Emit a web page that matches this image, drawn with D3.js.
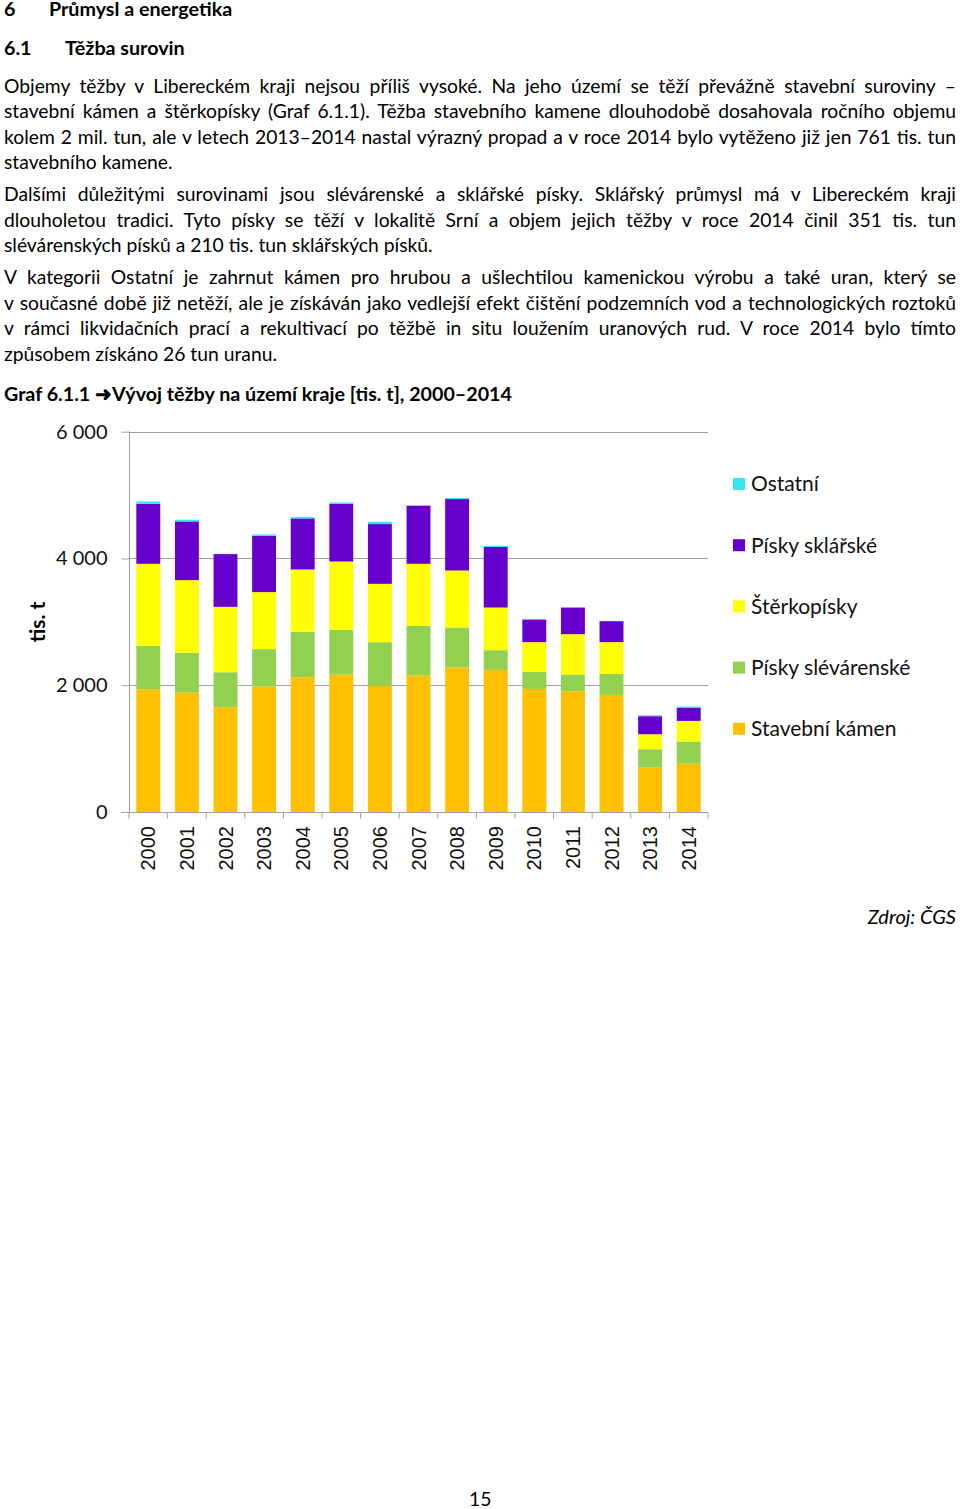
<!DOCTYPE html>
<html>
<head>
<meta charset="utf-8">
<script src="https://cdn.jsdelivr.net/npm/d3@7"></script>
<style>
  html, body { margin: 0; padding: 0; background: #fff; }
  body { width: 960px; height: 1509px; position: relative; overflow: hidden; font-family: Lato, "Open Sans", sans-serif; color: #000; }
  .ln { position: absolute; left: 4px; white-space: nowrap; font-size: 19.3px; line-height: 22px; }
  .just { width: 952px; text-align: justify; text-align-last: justify; }
  .b { font-weight: bold; font-size: 19.7px; }
  #chart { position: absolute; left: 0; top: 410px; }
</style>
</head>
<body>
<div class="ln b" style="top:-2px;">6<span style="position:absolute;left:45px;">Průmysl a energetika</span></div>
<div class="ln b" style="top:37px;">6.1<span style="position:absolute;left:61px;white-space:nowrap;">Těžba surovin</span></div>

<div class="ln just" style="top:75px;">Objemy těžby v Libereckém kraji nejsou příliš vysoké. Na jeho území se těží převážně stavební suroviny –</div>
<div class="ln just" style="top:100px;">stavební kámen a štěrkopísky (Graf 6.1.1). Těžba stavebního kamene dlouhodobě dosahovala ročního objemu</div>
<div class="ln just" style="top:126px;">kolem 2 mil. tun, ale v letech 2013–2014 nastal výrazný propad a v roce 2014 bylo vytěženo již jen 761 tis. tun</div>
<div class="ln" style="top:151px;">stavebního kamene.</div>

<div class="ln just" style="top:183px;">Dalšími důležitými surovinami jsou slévárenské a sklářské písky. Sklářský průmysl má v Libereckém kraji</div>
<div class="ln just" style="top:209px;">dlouholetou tradici. Tyto písky se těží v lokalitě Srní a objem jejich těžby v roce 2014 činil 351 tis. tun</div>
<div class="ln" style="top:234px;">slévárenských písků a 210 tis. tun sklářských písků.</div>

<div class="ln just" style="top:266px;">V kategorii Ostatní je zahrnut kámen pro hrubou a ušlechtilou kamenickou výrobu a také uran, který se</div>
<div class="ln just" style="top:292px;">v současné době již netěží, ale je získáván jako vedlejší efekt čištění podzemních vod a technologických roztoků</div>
<div class="ln just" style="top:317px;">v rámci likvidačních prací a rekultivací po těžbě in situ loužením uranových rud. V roce 2014 bylo tímto</div>
<div class="ln" style="top:343px;">způsobem získáno 26 tun uranu.</div>

<div class="ln b" style="top:383px;">Graf 6.1.1 ➜Vývoj těžby na území kraje [tis. t], 2000–2014</div>

<div class="ln" style="top:905px;left:auto;right:4px;font-style:italic;font-size:20px;">Zdroj: ČGS</div>
<div class="ln" style="top:1488px;left:469px;">15</div>

<svg id="chart" width="960" height="480"></svg>

<script>
const years = ["2000","2001","2002","2003","2004","2005","2006","2007","2008","2009","2010","2011","2012","2013","2014"];
const stavebniKamen   = [1937,1884,1653,1979,2127,2168,1994,2152,2279,2242,1942,1905,1847,700,761];
const piskySlevarenske = [684,627,552,590,715,706,686,785,632,311,269,263,332,290,351];
const sterkopisky     = [1295,1147,1032,900,984,1078,920,979,899,673,469,637,501,237,325];
const piskySklarske   = [947,926,832,889,806,911,943,916,1127,958,357,421,331,284,210];
const ostatni         = [37,27,5,21,21,21,36,11,16,16,10,3,5,16,16];
const seriesNames  = ["Stavební kámen","Písky slévárenské","Štěrkopísky","Písky sklářské","Ostatní"];
const seriesColors = ["#FFC000","#92D050","#FFFF00","#6600CC","#33E6F0"];
const yTicks = [0, 2000, 4000, 6000];

const offY = 410;
const svg = d3.select("#chart");
const x = d3.scaleBand().domain(years).range([129, 708]).paddingInner(0.38).paddingOuter(0.19);
const y = d3.scaleLinear().domain([0, 6000]).range([812 - offY, 431.7 - offY]);

const seriesData = [stavebniKamen, piskySlevarenske, sterkopisky, piskySklarske, ostatni];
const table = years.map((yr, i) => {
  const o = { year: yr };
  seriesNames.forEach((n, k) => o[n] = seriesData[k][i]);
  return o;
});
const stacked = d3.stack().keys(seriesNames)(table);

// gridlines
svg.append("g").selectAll("line").data(yTicks.filter(d => d > 0)).join("line")
  .attr("x1", 129).attr("x2", 708)
  .attr("y1", d => Math.round(y(d)) + 0.5).attr("y2", d => Math.round(y(d)) + 0.5)
  .attr("stroke", "#a0a0a0").attr("stroke-width", 1);

// bars
svg.append("g").selectAll("g").data(stacked).join("g")
  .attr("fill", (d, i) => seriesColors[i])
  .selectAll("rect").data(d => d).join("rect")
  .attr("x", d => x(d.data.year))
  .attr("width", x.bandwidth())
  .attr("y", d => y(d[1]))
  .attr("height", d => y(d[0]) - y(d[1]));

// y axis
const yAxis = d3.axisLeft(y).tickValues(yTicks).tickSize(8).tickPadding(6)
  .tickFormat(d => d3.format(",")(d).replace(/,/g, " "));
const gy = svg.append("g").attr("transform", "translate(129.5,0)").call(yAxis);
gy.select(".domain").attr("stroke", "#a0a0a0").attr("d", `M0,${y(6000)}V${y(0)}`);
gy.selectAll(".tick line").attr("stroke", "#a0a0a0");
gy.selectAll(".tick text").attr("font-family", "Lato, sans-serif").attr("font-size", 20).attr("fill", "#111").attr("x", -22);

// x axis
const boundaries = years.map(yr => x(yr) - x.step() * x.paddingInner() / 2).concat([708]);
const gx = svg.append("g").attr("transform", `translate(0,${Math.round(y(0)) + 0.5})`);
gx.append("line").attr("x1", 121).attr("x2", 708).attr("stroke", "#a0a0a0");
gx.selectAll("line.tk").data(boundaries).join("line").attr("class", "tk")
  .attr("x1", d => d).attr("x2", d => d).attr("y1", 0).attr("y2", 6).attr("stroke", "#a0a0a0");
const xAxis = d3.axisBottom(x).tickSize(0).tickPadding(0);
const gxl = svg.append("g").attr("transform", `translate(0,${y(0)})`).call(xAxis);
gxl.select(".domain").remove();
gxl.selectAll(".tick text")
  .attr("font-family", "'Liberation Sans', Arial, sans-serif").attr("font-size", 20).attr("fill", "#111")
  .attr("transform", "rotate(-90)").attr("text-anchor", "end").attr("dy", "0.35em").attr("x", -14).attr("y", 0);

// y axis title
svg.append("text").attr("transform", `translate(45,${622 - offY}) rotate(-90)`)
  .attr("text-anchor", "middle").attr("font-family", "Lato, sans-serif").attr("font-weight", "bold")
  .attr("font-size", 21).text("tis. t");

// legend
const legendOrder = [4, 3, 2, 1, 0];
const lg = svg.append("g").selectAll("g").data(legendOrder).join("g")
  .attr("transform", (k, i) => `translate(733,${484 - offY + i * 61.2})`);
lg.append("rect").attr("x", 0).attr("y", -6).attr("width", 12).attr("height", 12).attr("fill", k => seriesColors[k]);
lg.append("text").attr("x", 18).attr("dy", "0.35em").attr("font-family", "Lato, sans-serif").attr("font-size", 21)
  .attr("fill", "#111").text(k => seriesNames[k]);
</script>
</body>
</html>
